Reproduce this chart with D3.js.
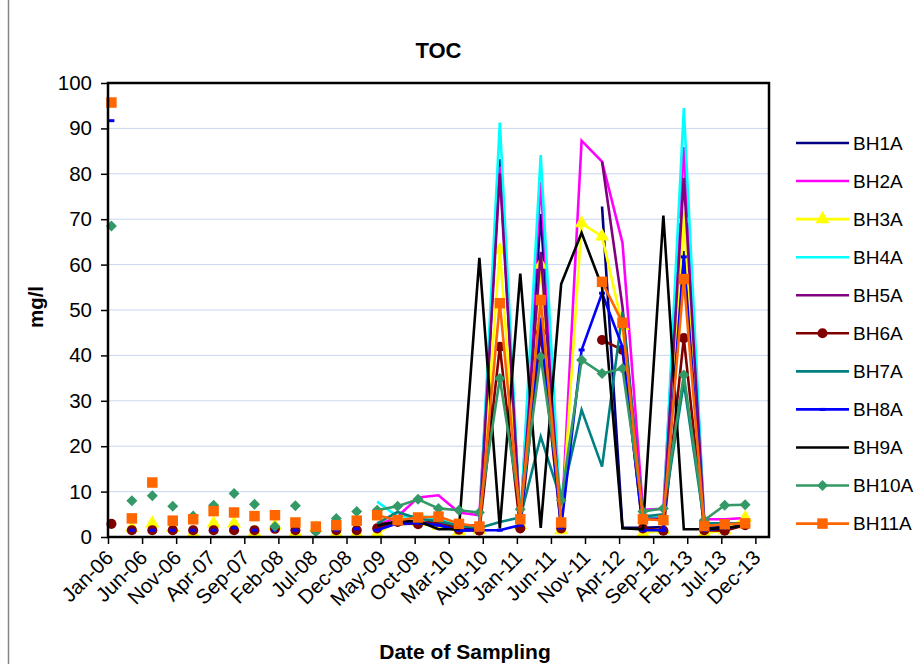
<!DOCTYPE html>
<html>
<head>
<meta charset="utf-8">
<script src="https://cdn.jsdelivr.net/npm/d3@7"></script>
<style>
  html, body { margin: 0; padding: 0; background: #fff; }
  svg { display: block; font-family: Arial, 'Liberation Sans', sans-serif; }
</style>
</head>
<body>
<svg id="chart" width="917" height="664"></svg>
<script>
const N = null

// sampling dates (quarterly)
const sampleDates = [
  '2006-01', '2006-04', '2006-07', '2006-10', '2007-01', '2007-04', '2007-07', '2007-10',
  '2008-01', '2008-04', '2008-07', '2008-10', '2009-01', '2009-04', '2009-07', '2009-10',
  '2010-01', '2010-04', '2010-07', '2010-10', '2011-01', '2011-04', '2011-07', '2011-10',
  '2012-01', '2012-04', '2012-07', '2012-10', '2013-01', '2013-04', '2013-07', '2013-10'
]

// before this date the samples are not joined by lines
const firstJoinedDate = '2009-04'

const seriesNames = ['BH1A', 'BH2A', 'BH3A', 'BH4A', 'BH5A', 'BH6A', 'BH7A', 'BH8A', 'BH9A', 'BH10A', 'BH11A']

const bh1a = [N, N, N, N, N, N, N, N, N, N, N, N, N,
  2.5, 2.8, 3.0, 2.6, 2.0, 1.8, 83.2, 2.5, 71.1, 2.5, N, 72.8, 2.0, 2.0, 2.2, 63.0, 2.0, 2.2, 2.5]
const bh2a = [N, N, N, N, N, N, N, N, N, N, N, N, N,
  2.5, 4.5, 8.7, 9.2, 5.4, 4.8, 81.6, 3.0, 78.2, 1.5, 87.3, 82.7, 64.8, 6.0, 6.2, 85.9, 3.9, 3.9, 4.2]
const bh3a = [N, 2.0, 3.0, 2.0, 0.8, 3.0, 3.0, 1.0, 2.5, 1.0, 2.0, 0.8, 0.8,
  0.8, 3.5, 3.3, 2.5, 1.3, 1.5, 63.2, 2.6, 60.0, 1.5, 69.1, 66.2, 46.5, 0.8, 1.5, 70.0, 0.8, 1.5, 4.2]
const bh4a = [N, N, N, N, N, N, N, N, N, N, N, N, N,
  7.8, 4.5, 4.6, 4.1, 2.2, 2.6, 91.3, 3.0, 84.1, 2.5, N, N, N, 4.0, 4.5, 94.5, 3.0, 3.0, 3.0]
const bh5a = [N, N, N, N, N, N, N, N, N, N, N, N, N,
  3.0, 3.0, 3.2, 3.0, 2.5, 2.5, 80.1, 3.0, 62.8, 2.5, N, 82.7, 50.7, 4.0, 4.0, 79.1, 3.0, 3.0, 3.0]
const bh6a = [2.9, 1.5, 1.5, 1.5, 1.5, 1.5, 1.5, 1.5, 1.8, 1.5, 1.5, 1.5, 1.5,
  1.9, 3.3, 2.8, 3.7, 1.6, 1.4, 41.9, 1.9, 45.0, 1.9, N, 43.4, 41.2, 1.9, 1.4, 43.8, 1.5, 1.4, 2.6]
const bh7a = [N, N, N, N, N, N, N, N, N, N, N, N, N,
  3.0, 5.5, 4.0, 3.5, 2.5, 2.0, 3.3, 4.3, 22.1, 8.1, 28.0, 15.5, 49.6, 4.5, 5.0, 34.0, 3.0, 3.0, 3.0]
const bh8a = [91.7, 1.5, 1.5, 1.5, 1.5, 1.5, 2.0, 1.5, 1.5, 1.5, 1.5, 1.5, 1.8,
  1.5, 3.0, 3.1, 2.6, 1.4, 1.5, 1.5, 2.6, 48.0, 2.0, 41.2, 53.7, 41.9, 1.5, 1.5, 61.7, 1.5, 2.0, 2.5]
const bh9a = [N, N, N, N, N, N, N, N, N, N, N, N, N,
  2.5, 3.5, 3.5, 1.7, 1.7, 61.5, 1.9, 58.0, 2.0, 55.7, 67.0, 55.1, 1.9, 1.7, 70.8, 1.7, 1.7, 2.0, 2.5]
const bh10a = [68.5, 8.0, 9.1, 6.8, 4.6, 7.0, 9.6, 7.2, 2.3, 6.9, 1.2, 4.1, 5.6,
  5.9, 6.8, 8.3, 6.3, 5.9, 5.4, 34.9, 6.1, 39.7, 8.1, 39.0, 36.0, 37.1, 5.6, 6.3, 35.7, 3.7, 7.0, 7.1]
const bh11a = [95.7, 4.1, 12.0, 3.6, 3.9, 5.7, 5.4, 4.6, 4.8, 3.2, 2.3, 2.6, 3.6,
  4.8, 3.7, 4.3, 4.5, 2.9, 2.3, 51.5, 3.9, 52.2, 3.2, N, 56.2, 47.2, 3.9, 3.7, 56.8, 2.4, 2.8, 3.0]

const seriesValues = [bh1a, bh2a, bh3a, bh4a, bh5a, bh6a, bh7a, bh8a, bh9a, bh10a, bh11a]

const yTicks = [0, 10, 20, 30, 40, 50, 60, 70, 80, 90, 100]
const xTickLabels = [
  'Jan-06', 'Jun-06', 'Nov-06', 'Apr-07', 'Sep-07', 'Feb-08', 'Jul-08', 'Dec-08', 'May-09', 'Oct-09',
  'Mar-10', 'Aug-10', 'Jan-11', 'Jun-11', 'Nov-11', 'Apr-12', 'Sep-12', 'Feb-13', 'Jul-13', 'Dec-13'
]

// styles
const seriesStyle = {
  BH1A: { color: '#000080', marker: null },
  BH2A: { color: '#FF00FF', marker: null },
  BH3A: { color: '#FFFF00', marker: 'triangle' },
  BH4A: { color: '#00FFFF', marker: null },
  BH5A: { color: '#800080', marker: null },
  BH6A: { color: '#800000', marker: 'circle' },
  BH7A: { color: '#008080', marker: null },
  BH8A: { color: '#0000FF', marker: 'dash' },
  BH9A: { color: '#000000', marker: null },
  BH10A: { color: '#339966', marker: 'diamond' },
  BH11A: { color: '#FF6600', marker: 'square' }
}
const gridColor = '#C8D7F0'
const lineWidth = 2.6
const tickFontSize = '20.5px'

const width = 917
const height = 664
const margin = { top: 83, right: 148, bottom: 127, left: 108 }
const plotW = width - margin.left - margin.right
const plotH = height - margin.top - margin.bottom

const monthIndex = (s) => {
  const [yy, mm] = s.split('-').map(Number)
  return (yy - 2006) * 12 + (mm - 1)
}
const firstJoined = monthIndex(firstJoinedDate)

const svg = d3.select('#chart')

// chart area border (left edge visible)
svg.append('line')
  .attr('x1', 8.5).attr('x2', 8.5)
  .attr('y1', 0).attr('y2', height)
  .attr('stroke', '#868686')
  .attr('stroke-width', 1.5)

const g = svg.append('g')
  .attr('transform', 'translate(' + margin.left + ',' + margin.top + ')')

const x = d3.scaleLinear().domain([0, 97]).range([0, plotW])
const y = d3.scaleLinear().domain([0, 100]).range([plotH, 0])

// points sit in the middle of their month slot
const px = (m) => x(m + 0.5)

// gridlines
g.selectAll('.grid')
  .data(yTicks.filter((d) => d > 0 && d < 100))
  .enter()
  .append('line')
  .attr('class', 'grid')
  .attr('x1', 0)
  .attr('x2', plotW)
  .attr('y1', (d) => y(d))
  .attr('y2', (d) => y(d))
  .attr('stroke', gridColor)
  .attr('stroke-width', 1)

// y axis
const yAxis = g.append('g')
  .call(d3.axisLeft(y).tickValues(yTicks).tickSize(7).tickPadding(9).tickFormat((d) => d))
yAxis.select('.domain').remove()
yAxis.selectAll('line').attr('stroke', '#000').attr('stroke-width', 1.5)
yAxis.selectAll('text')
  .attr('fill', '#000')
  .style('font-size', tickFontSize)
  .style('font-family', 'Arial, "Liberation Sans", sans-serif')

// x axis
const xAxis = g.append('g')
  .attr('transform', 'translate(0,' + plotH + ')')
  .call(d3.axisBottom(x)
    .tickValues(d3.range(0, 96, 5))
    .tickSize(7)
    .tickFormat((d, i) => xTickLabels[i]))
xAxis.select('.domain').remove()
xAxis.selectAll('line').attr('stroke', '#000').attr('stroke-width', 1.5)
xAxis.selectAll('text')
  .attr('fill', '#000')
  .attr('y', 0)
  .attr('dy', 0)
  .attr('text-anchor', 'end')
  .attr('transform', 'translate(6,22) rotate(-45)')
  .style('font-size', tickFontSize)
  .style('font-family', 'Arial, "Liberation Sans", sans-serif')

// marker shapes
const markerPath = (type) => {
  if (type === 'triangle') return d3.symbol(d3.symbolTriangle, 85)()
  if (type === 'circle') return d3.symbol(d3.symbolCircle, 80)()
  if (type === 'square') return d3.symbol(d3.symbolSquare, 110)()
  if (type === 'diamond') return 'M0,-5.5L5.5,0L0,5.5L-5.5,0Z'
  if (type === 'dash') return 'M-3,-1.5L3,-1.5L3,1.5L-3,1.5Z'
  return null
}

const line = d3.line()
  .defined((d) => d.v != null && d.m >= firstJoined)
  .x((d) => px(d.m))
  .y((d) => y(d.v))

const plot = g.append('g')

seriesNames.forEach((name, si) => {
  const style = seriesStyle[name]
  const pts = sampleDates.map((s, i) => ({ m: monthIndex(s), v: seriesValues[si][i] }))

  plot.append('path')
    .datum(pts)
    .attr('fill', 'none')
    .attr('stroke', style.color)
    .attr('stroke-width', lineWidth)
    .attr('d', line)

  if (style.marker) {
    plot.selectAll('.m-' + name)
      .data(pts.filter((d) => d.v != null))
      .enter()
      .append('path')
      .attr('class', 'm-' + name)
      .attr('transform', (d) => 'translate(' + px(d.m) + ',' + y(d.v) + ')')
      .attr('d', markerPath(style.marker))
      .attr('fill', style.color)
      .attr('stroke', 'none')
  }
})

// plot frame
g.append('rect')
  .attr('x', 0)
  .attr('y', 0)
  .attr('width', plotW)
  .attr('height', plotH)
  .attr('fill', 'none')
  .attr('stroke', '#000')
  .attr('stroke-width', 2.5)

// titles
svg.append('text')
  .attr('x', margin.left + plotW / 2)
  .attr('y', 58)
  .attr('text-anchor', 'middle')
  .style('font-size', '22px')
  .style('font-weight', 700)
  .text('TOC')

svg.append('text')
  .attr('transform', 'translate(43,307) rotate(-90)')
  .attr('text-anchor', 'middle')
  .style('font-size', '20.5px')
  .style('font-weight', 700)
  .text('mg/l')

svg.append('text')
  .attr('x', 465)
  .attr('y', 659)
  .attr('text-anchor', 'middle')
  .style('font-size', '21px')
  .style('font-weight', 700)
  .text('Date of Sampling')

// legend
const legend = svg.append('g').attr('transform', 'translate(796,143)')
const legendStep = 38.06

seriesNames.forEach((name, i) => {
  const style = seriesStyle[name]
  const row = legend.append('g').attr('transform', 'translate(0,' + i * legendStep + ')')
  row.append('line')
    .attr('x1', 0)
    .attr('x2', 53)
    .attr('stroke', style.color)
    .attr('stroke-width', lineWidth)
  if (style.marker) {
    row.append('path')
      .attr('transform', 'translate(26.5,0)')
      .attr('d', markerPath(style.marker))
      .attr('fill', style.color)
  }
  row.append('text')
    .attr('x', 57)
    .attr('dy', '0.36em')
    .style('font-size', '19px')
    .text(name)
})
</script>
</body>
</html>
